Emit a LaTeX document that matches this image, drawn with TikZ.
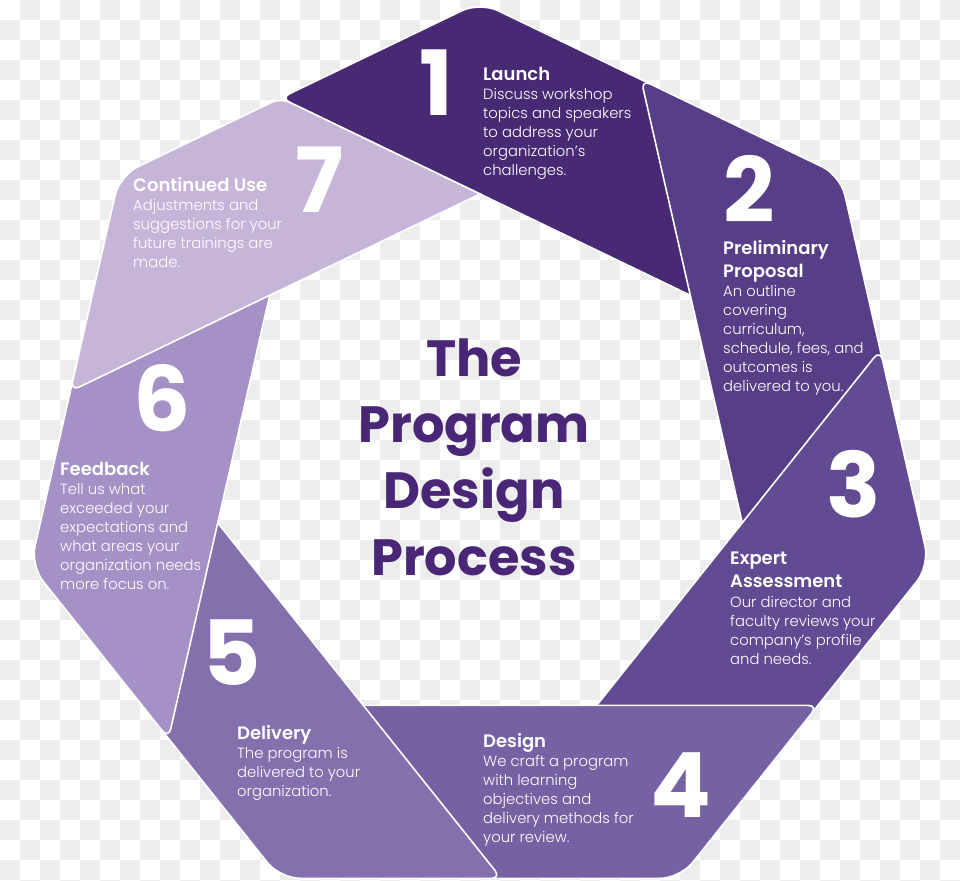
\documentclass[tikz,border=0pt]{standalone}
\usepackage{fontspec}
\setmainfont{Poppins}
\IfFontExistsTF{Poppins Light}{\newfontfamily\bodyfont{Poppins Light}}{\newfontfamily\bodyfont{Poppins}}
\IfFontExistsTF{Poppins SemiBold}{\newfontfamily\headfont{Poppins SemiBold}}{\newfontfamily\headfont{Poppins}[UprightFont=*-Bold]}
\usetikzlibrary{calc}
\definecolor{chk}{HTML}{EDEDED}
\definecolor{s1}{HTML}{472A73}
\definecolor{s2}{HTML}{583D87}
\definecolor{s3}{HTML}{634B93}
\definecolor{s4}{HTML}{7661A2}
\definecolor{s5}{HTML}{8570AE}
\definecolor{s6}{HTML}{A591C5}
\definecolor{s7}{HTML}{C7B5D9}
\definecolor{ttlc}{HTML}{4A2776}
\begin{document}
\begin{tikzpicture}[x=1bp,y=-1bp,
  seg/.style={draw=white, line width=1.6bp},
  num/.style={text=white, font=\fontsize{90bp}{90bp}\selectfont\bfseries, anchor=base, inner sep=0},
  head/.style={text=white, font=\fontsize{18bp}{22bp}\selectfont\headfont, anchor=base west, inner sep=0},
  body/.style={text=white, font=\fontsize{14.8bp}{19bp}\selectfont\bodyfont, anchor=base west, inner sep=0},
  ttl/.style={text=ttlc, font=\fontsize{51bp}{60bp}\selectfont\bfseries, anchor=base, inner sep=0}]
\useasboundingbox (0,0) rectangle (960,881);
% transparent-checker background
\begin{scope}
\clip (0,0) rectangle (960,881);
\fill[white] (0,0) rectangle (960,881);
\foreach \j in {0,...,44} \foreach \i in {0,...,23}
  \fill[chk] ({40*\i+20*mod(\j+1,2)},{20*\j}) rectangle ++(20,20);
\end{scope}
% heptagon geometry: outer radius R, inner radius r
\pgfmathsetmacro\R{461}
\pgfmathsetmacro\r{269}
\pgfmathsetmacro\dx{-(\R-\r)/(2*tan(180/7))}
\pgfmathsetmacro\dy{-(\R+\r)/2}
\foreach \k in {0,...,6} {
  \pgfmathsetmacro\a{\k*360/7}
  \coordinate (V\k) at ({480+\R*sin(\a)},{463-\R*cos(\a)});
  \coordinate (W\k) at ({480+\r*sin(\a)},{463-\r*cos(\a)});
  \coordinate (P\k) at ({480+\dx*cos(\a)-\dy*sin(\a)},{463+\dx*sin(\a)+\dy*cos(\a)});
}
% ribbon segments
\foreach \k/\c in {0/s1,1/s2,2/s3,3/s4,4/s5,5/s6} {
  \pgfmathtruncatemacro\kn{mod(\k+1,7)}
  \path[seg, fill=\c] ($(W\kn)!0.5!(P\k)$) [rounded corners=10bp] -- (P\k)
     [rounded corners=20bp] -- (V\k) -- (V\kn) [sharp corners] -- (W\kn) -- cycle;
}
\path[seg, fill=s7] ($(W0)!0.5!(P6)$) [rounded corners=10bp] -- (P6)
     [rounded corners=20bp] -- (V6) [rounded corners=10bp] -- (P0) [sharp corners] -- (W0) -- cycle;
% numbers
\node[num] (n1) at (436,115) {1};
\node[num] (n2) at (749,222) {2};
\node[num] (n3) at (854,517) {3};
\node[num] (n4) at (681,817) {4};
\node[num] (n5) at (232,685) {5};
\node[num] (n6) at (162,431) {6};
\node[num] (n7) at (320,212) {7};
% step 1
\node[head] (h1) at (483,80) {Launch};
\foreach \t [count=\n from 0] in {Discuss workshop, topics and speakers, to address your, organization’s, challenges.}
  \node[body] (b1-\n) at (483,{99+19*\n}) {\t};
% step 2
\node[head] (h2a) at (723,254) {Preliminary};
\node[head] (h2b) at (723,277) {Proposal};
\foreach \t [count=\n from 0] in {An outline, covering, {curriculum,}, {schedule, fees, and}, outcomes is, delivered to you.}
  \node[body] (b2-\n) at (723,{296+19*\n}) {\t};
% step 3
\node[head] (h3a) at (730,564) {Expert};
\node[head] (h3b) at (730,587) {Assessment};
\foreach \t [count=\n from 0] in {Our director and, faculty reviews your, company’s profile, and needs.}
  \node[body] (b3-\n) at (730,{607+19*\n}) {\t};
% step 4
\node[head] (h4) at (483,747) {Design};
\foreach \t [count=\n from 0] in {We craft a program, with learning, objectives and, delivery methods for, your review.}
  \node[body] (b4-\n) at (483,{766+19*\n}) {\t};
% step 5
\node[head] (h5) at (237,739) {Delivery};
\foreach \t [count=\n from 0] in {The program is, delivered to your, organization.}
  \node[body] (b5-\n) at (237,{758+19*\n}) {\t};
% step 6
\node[head] (h6) at (60,475) {Feedback};
\foreach \t [count=\n from 0] in {Tell us what, exceeded your, expectations and, what areas your, organization needs, more focus on.}
  \node[body] (b6-\n) at (60,{494+19*\n}) {\t};
% step 7
\node[head] (h7) at (133,191) {Continued Use};
\foreach \t [count=\n from 0] in {Adjustments and, suggestions for your, future trainings are, made.}
  \node[body] (b7-\n) at (133,{210+19*\n}) {\t};
% title
\node[ttl] (t1) at (474,376) {The};
\node[ttl] (t2) at (474,442) {Program};
\node[ttl] (t3) at (474,508) {Design};
\node[ttl] (t4) at (474,575) {Process};
\end{tikzpicture}
\end{document}
